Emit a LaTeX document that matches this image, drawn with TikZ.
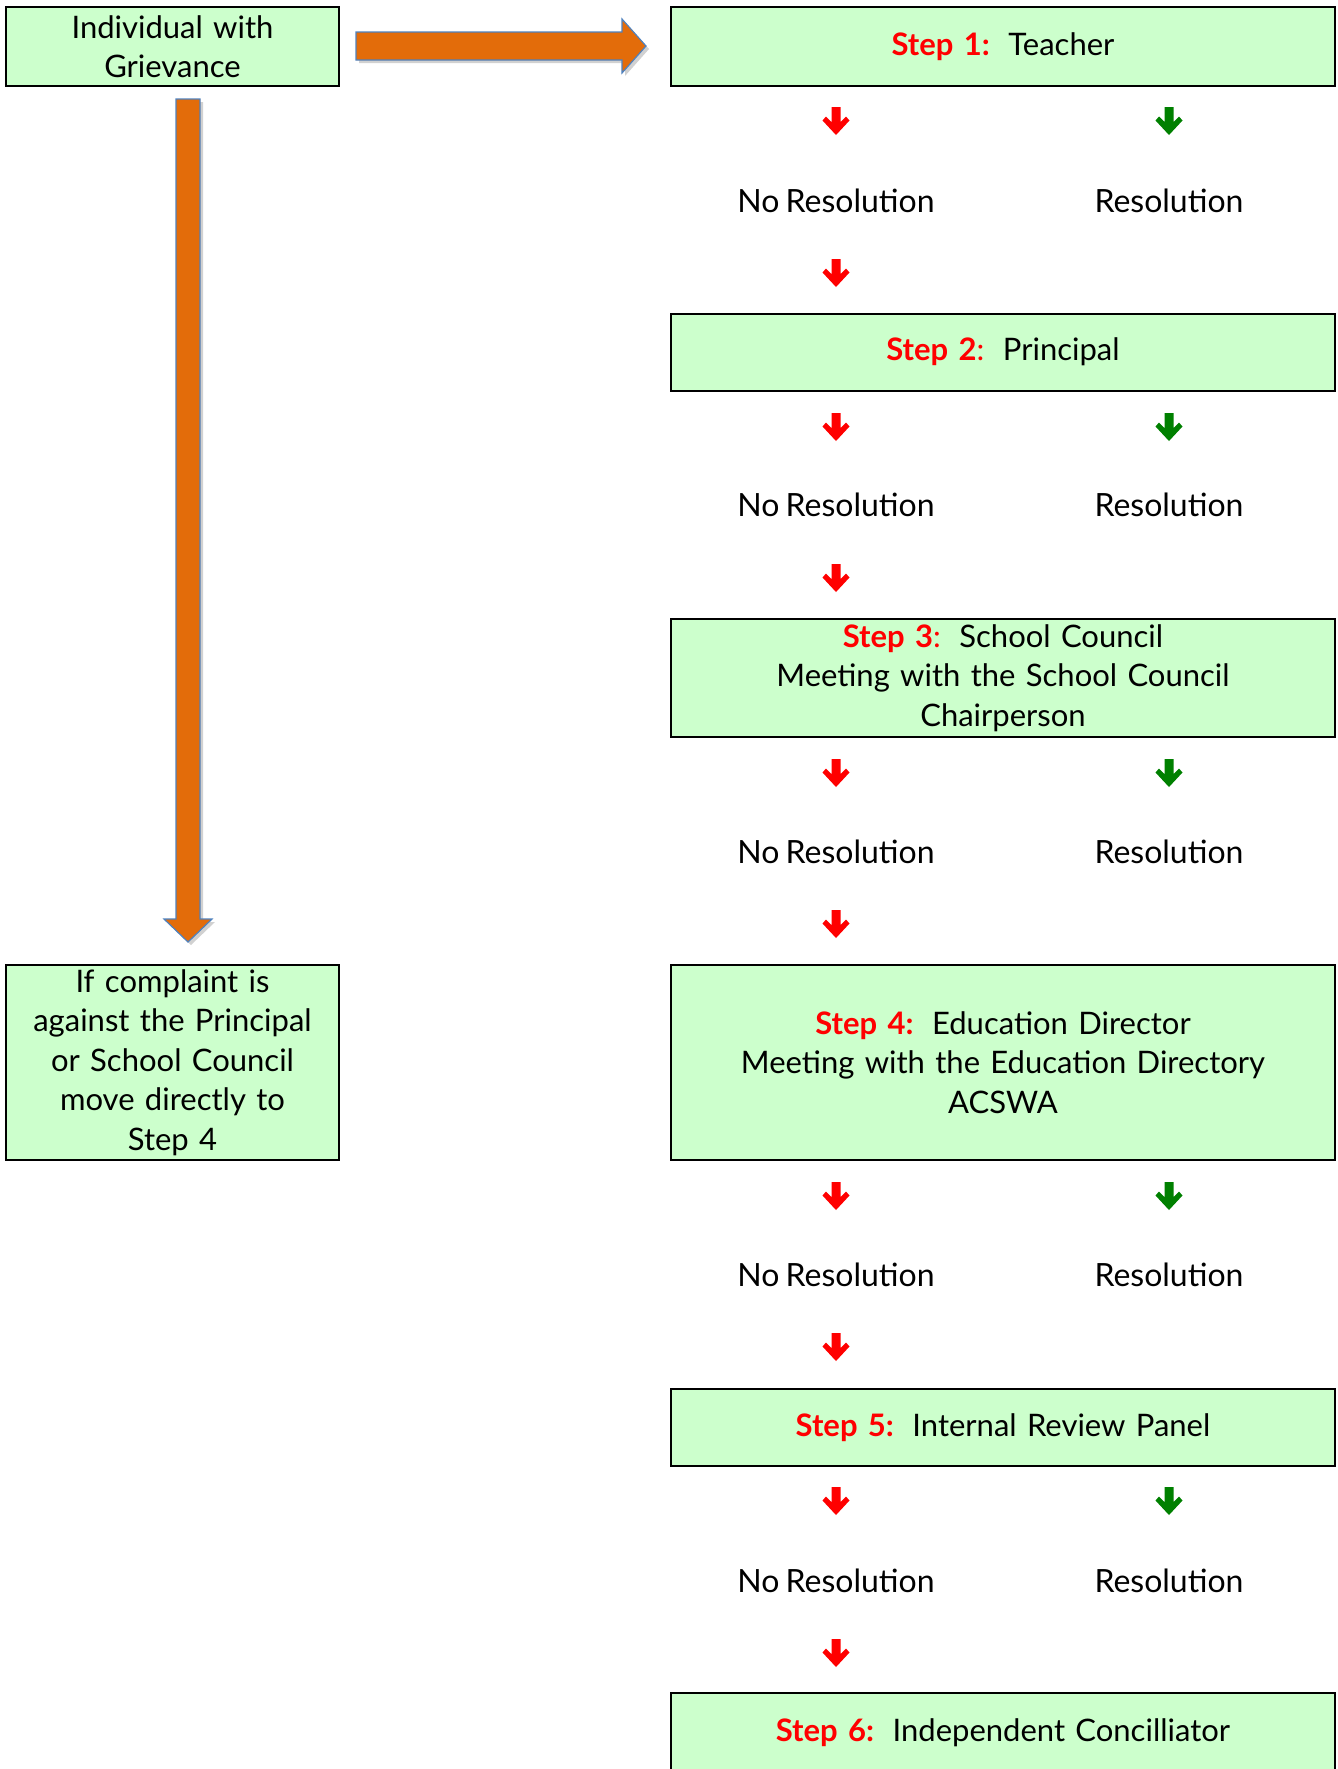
\documentclass[tikz,border=0pt]{standalone}
\usepackage{fontspec}
\setmainfont[WordSpace=0.75]{Lato}
\usetikzlibrary{calc}
\definecolor{boxgreen}{HTML}{CCFFCC}
\definecolor{bigorange}{HTML}{E36C0A}
\definecolor{arrowblue}{HTML}{4F81BD}
\definecolor{resgreen}{HTML}{008000}
\definecolor{stepred}{HTML}{FF0000}
\tikzset{
  boxfont/.style={font=\fontsize{15.5}{19.75}\selectfont},
  lblfont/.style={font=\fontsize{16}{19.75}\selectfont},
  stepbox/.style={boxfont, draw=black, line width=1pt, fill=boxgreen,
    minimum width=332pt, inner sep=0pt, align=center, text width=320pt},
  sidebox/.style={boxfont, draw=black, line width=1pt, fill=boxgreen,
    minimum width=166.5pt, inner sep=0pt, align=center, text width=160pt},
  lbl/.style={lblfont, inner sep=0pt},
  bigarrow/.style={fill=bigorange, draw=arrowblue, line width=0.6pt, line join=miter},
  bigshadow/.style={fill=black, opacity=0.18},
  pics/downarrow/.style={code={
    \fill[#1] (-4.5,0) -- (4.5,0) -- (4.5,15) -- (10,9.5) -- (13.5,13.5) -- (0,28)
      -- (-13.5,13.5) -- (-10,9.5) -- (-4.5,15) -- cycle;}}
}
\newcommand{\stp}[1]{{\color{stepred}\bfseries Step #1:}\hspace{0.6em}}
\newcommand{\stpb}[1]{{\color{stepred}\bfseries Step #1}{\color{stepred}:}\hspace{0.6em}}
\begin{document}
\begin{tikzpicture}[x=0.5pt,y=-0.5pt]
\useasboundingbox (0,0) rectangle (1338,1769);
\clip (0,0) rectangle (1338,1769);

% left boxes
\node[sidebox, minimum height=39.5pt] (ind) at (172.5,46.5) {Individual with\\Grievance};
\node[sidebox, minimum height=97.5pt] (comp) at (172.5,1062.5)
  {If complaint is\\against the Principal\\or School Council\\move directly to\\Step 4};

% step boxes
\node[stepbox, minimum height=39.5pt] (s1) at (1003,46.5) {\stp{1}Teacher};
\node[stepbox, minimum height=38.5pt] (s2) at (1003,352) {\stpb{2}Principal};
\node[stepbox, minimum height=59pt] (s3) at (1003,678)
  {\stpb{3}School Council\\Meeting with the School Council\\Chairperson};
\node[stepbox, minimum height=97.5pt] (s4) at (1003,1062.5)
  {\stp{4}Education Director\\Meeting with the Education Directory\\ACSWA};
\node[stepbox, minimum height=38.5pt] (s5) at (1003,1427.5) {\stp{5}Internal Review Panel};
\node[stepbox, minimum height=39.5pt] (s6) at (1003,1732.5) {\stp{6}Independent Concilliator};

% big arrows (shadow then arrow)
\fill[bigshadow] (359,35) -- (625,35) -- (625,22) -- (649,49) -- (625,76) -- (625,63) -- (359,63) -- cycle;
\filldraw[bigarrow] (356,32) -- (622,32) -- (622,19) -- (646,46) -- (622,73) -- (622,60) -- (356,60) -- cycle;
\fill[bigshadow] (179,102) -- (203,102) -- (203,922) -- (215,922) -- (191,945) -- (167,922) -- (179,922) -- cycle;
\filldraw[bigarrow] (176,99) -- (200,99) -- (200,919) -- (212,919) -- (188,942) -- (164,919) -- (176,919) -- cycle;

% rows of resolution labels and small arrows
\foreach \a/\t/\b/\n in {107/201/259/1, 413/505/564/2, 759/852/910/3, 1182/1275/1333/4, 1487/1581/1639/5}{
  \pic at (836,\a) {downarrow=stepred};
  \pic at (1169,\a) {downarrow=resgreen};
  \node[lbl] (nr\n) at (836,\t) {No Resolution};
  \node[lbl] (r\n) at (1169,\t) {Resolution};
  \pic at (836,\b) {downarrow=stepred};
}
\end{tikzpicture}
\end{document}
